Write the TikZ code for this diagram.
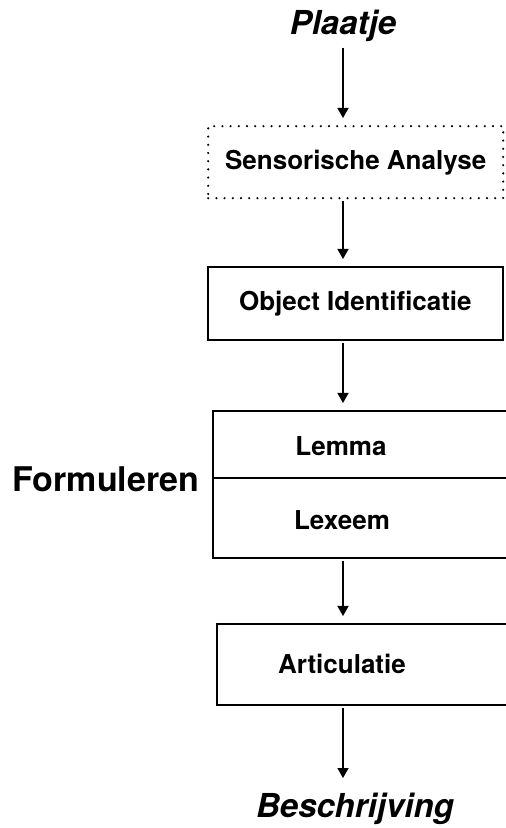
\documentclass[tikz,border=0pt]{standalone}
\usepackage{fontspec}
\setmainfont{TeX Gyre Heros}
\usetikzlibrary{arrows.meta,positioning}

\begin{document}
\begin{tikzpicture}[x=1pt, y=1pt,
    box/.style={draw, line width=1.7pt, minimum width=295pt, minimum height=73pt, anchor=north west, font=\fontsize{26}{31}\selectfont\bfseries},
    dotbox/.style={box, line width=2.4pt, dash pattern=on 0pt off 8.2pt, line cap=round},
    frame/.style={draw, line width=1.7pt, minimum width=340pt, anchor=north west},
    label/.style={font=\fontsize{26}{31}\selectfont\bfseries, inner sep=0pt},
    title/.style={font=\fontsize{33}{39}\selectfont\bfseries\itshape, anchor=base},
    arrow/.style={-{Triangle[length=10pt,width=11pt]}, line width=1.5pt, shorten >=7pt, shorten <=2pt}
  ]
    \useasboundingbox (0,0) rectangle (506,828);
    \clip (0,0) rectangle (506,828);
    \node[title] (plaatje) at (343,793) {Plaatje};
    \node[dotbox, minimum height=72pt] (sens) at (207,703) {Sensorische Analyse};
    \node[box] (obj) at (207,562) {Object Identificatie};
    \node[frame, minimum height=147pt] (form) at (212,418) {};
    \draw[line width=1.7pt] ([yshift=6.5pt]form.west) -- ([yshift=6.5pt]form.east);
    \node[label] (lemma) at (341,382) {Lemma};
    \node[label] (lexeem) at (342,308) {Lexeem};
    \node[font=\fontsize{34}{40}\selectfont\bfseries, anchor=base] (formuleren) at (106,336) {Formuleren};
    \node[frame, minimum height=81pt] (artic) at (216,205) {};
    \node[label] (articulatie) at (342,164) {Articulatie};
    \node[title] (besch) at (355,10) {Beschrijving};
    \draw[arrow] (plaatje.south) -- (sens.north -| plaatje);
    \draw[arrow] (sens.south -| plaatje) -- (obj.north -| plaatje);
    \draw[arrow] (obj.south -| plaatje) -- (form.north -| plaatje);
    \draw[arrow] (form.south -| plaatje) -- (artic.north -| plaatje);
    \draw[arrow, shorten >=12pt] (artic.south -| plaatje) -- (besch.north -| plaatje);
\end{tikzpicture}
\end{document}
